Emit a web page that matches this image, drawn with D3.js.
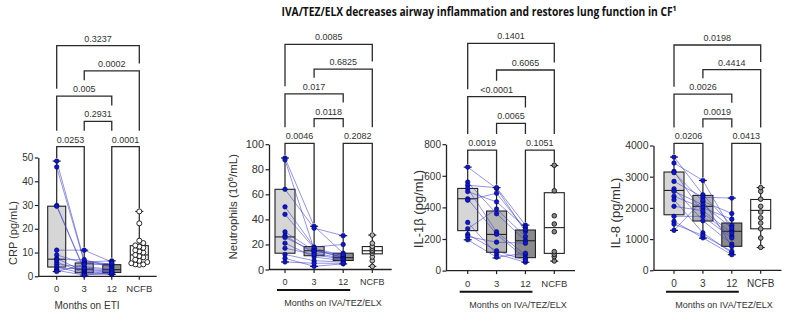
<!DOCTYPE html>
<html>
<head>
<meta charset="utf-8">
<script src="https://cdn.jsdelivr.net/npm/d3@7"></script>
<style>
  html, body { margin: 0; padding: 0; background: #fff; }
  svg text { font-family: 'Liberation Sans', Arial, Helvetica, sans-serif; }
</style>
</head>
<body>
<div id="chart"></div>
<script>
(function() {
    'use strict';

    var titleText = 'IVA/TEZ/ELX decreases airway inflammation and restores lung function in CF\u00b9';
    var groups = ['0', '3', '12', 'NCFB'];

    // comparisons (group indexes) and the stack level of each bracket, top = 0
    var comparisons = [[0, 3], [1, 3], [0, 2], [1, 2], [0, 1], [2, 3]];
    var compLevels = [0, 1, 2, 3, 4, 4];

    // CRP (pg/mL), paired by patient across 0 / 3 / 12 months
    var crpMonth0  = [48.5, 46, 29.8, 29.5, 11, 9, 7.5, 7, 6, 5, 4, 3, 2.5, 2];
    var crpMonth3  = [6.5, 6, 3, 2.5, 11, 5.5, 2, 7, 1.5, 4, 1, 3.5, 0.5, 5];
    var crpMonth12 = [5, 6.5, 2, 1.7, 6, 4.5, 1.2, 3.8, 1, 3, 0.8, 2.5, 1.5, 5.5];
    var crpNcfb    = [27.3, 22.3, 15, 14, 13, 12.5, 12, 11, 10.5, 10, 9, 8.5, 8, 7, 6.5, 6, 5.5, 5, 5, 4.8];
    // min, q1, median, q3, max
    var crpBoxes   = [[2, 3.9, 7.2, 29.5, 48.5], [0.5, 1.5, 3, 5.6, 11], [0.8, 1.6, 2.8, 4.9, 6.5], [4.7, 5.6, 9, 12.9, 27.3]];
    var crpP       = ['0.3237', '0.0002', '0.005', '0.2931', '0.0253', '0.0001'];

    // Neutrophils (10^6/mL)
    var neuMonth0  = [89, 87.5, 64, 50, 44, 30, 27, 25.5, 21, 17, 12, 9, 6];
    var neuMonth3  = [34.5, 16, 33, 18, 17, 15, 13, 14.5, 10, 12, 7, 2.5, 5];
    var neuMonth12 = [13, 9.5, 27, 20, 11, 10, 9, 12, 7, 8, 6, 4.5, 5];
    var neuNcfb    = [27.5, 21, 18.5, 17, 15.5, 14.5, 13, 10, 7, 2.5];
    var neuBoxes   = [[6, 13, 26, 64, 89], [2.5, 11, 15, 18.3, 34.5], [4.5, 7.2, 9.5, 13, 27], [2.5, 12.5, 15, 18.3, 27.5]];
    var neuP       = ['0.0085', '0.6825', '0.017', '0.0118', '0.0046', '0.2082'];

    // IL-1beta (pg/mL)
    var il1bMonth0  = [655, 560, 540, 520, 500, 455, 445, 305, 265, 230, 215, 195];
    var il1bMonth3  = [520, 360, 525, 245, 435, 230, 490, 105, 390, 125, 180, 85];
    var il1bMonth12 = [246, 190, 288, 99, 274, 78, 260, 53, 215, 65, 173, 110];
    var il1bNcfb    = [667, 505, 347, 295, 246, 120, 103, 88, 61];
    var il1bBoxes   = [[195, 253, 455, 520, 655], [80, 116, 229, 377, 525], [53, 82, 189, 257, 288], [60, 109, 272, 493, 665]];
    var il1bP       = ['0.1401', '0.6065', '<0.0001', '0.0065', '0.0019', '0.1051'];

    // IL-8 (pg/mL)
    var il8Month0  = [3630, 3440, 3170, 3130, 2850, 2610, 2530, 2370, 2260, 2050, 1730, 1570, 1480, 1280];
    var il8Month3  = [2420, 2880, 1840, 2210, 2340, 1590, 2100, 2000, 1200, 1910, 1730, 1040, 1120, 2250];
    var il8Month12 = [1440, 1280, 1100, 1820, 2315, 840, 1355, 1640, 555, 1195, 1035, 500, 610, 760];
    var il8Ncfb    = [2650, 2530, 2280, 2050, 1870, 1680, 1515, 1330, 1035, 736];
    var il8Boxes   = [[1280, 1780, 2560, 3150, 3630], [1030, 1580, 2050, 2400, 2880], [500, 768, 1250, 1515, 2315], [730, 1330, 1920, 2270, 2650]];
    var il8P       = ['0.0198', '0.4414', '0.0026', '0.0019', '0.0206', '0.0413'];

    var panels = [
        { yLabel: ['CRP (pg/mL)'], yMax: 50, yStep: 10, xTitle: 'Months on ETI',
          paired: [crpMonth0, crpMonth3, crpMonth12], ncfb: crpNcfb, boxes: crpBoxes, p: crpP },
        { yLabel: ['Neutrophils (10', '6', '/mL)'], yMax: 100, yStep: 20, xTitle: 'Months on IVA/TEZ/ELX',
          paired: [neuMonth0, neuMonth3, neuMonth12], ncfb: neuNcfb, boxes: neuBoxes, p: neuP },
        { yLabel: ['IL-1\u03b2 (pg/mL)'], yMax: 800, yStep: 200, xTitle: 'Months on IVA/TEZ/ELX',
          paired: [il1bMonth0, il1bMonth3, il1bMonth12], ncfb: il1bNcfb, boxes: il1bBoxes, p: il1bP },
        { yLabel: ['IL-8 (pg/mL)'], yMax: 4000, yStep: 1000, xTitle: 'Months on IVA/TEZ/ELX',
          paired: [il8Month0, il8Month3, il8Month12], ncfb: il8Ncfb, boxes: il8Boxes, p: il8P }
    ];

    // pixel layout of each small graph
    var layouts = [
        { axisX: 38.3, catL: 56.7, catR: 139.3, xEnd: 156.7, yBase: 276.3, yTop: 157.5,
          bTop: 45.7, bStep: 25.25, labelX: 13, labelY: 233, yLabFs: 11, yTickFs: 10, xTickFs: 9.5,
          tickY: 288.3, xTitleX: 87, xTitleY: 305, xTitleFs: 10, bar: null, boxW: 18,
          ncfbFill: '#fff', ncfbR: 2.5, dodge: true },
        { axisX: 269, catL: 285, catR: 372.3, xEnd: 391.7, yBase: 269.5, yTop: 144.2,
          bTop: 44.3, bStep: 24.75, labelX: 233.3, labelY: 206.7, yLabFs: 11.5, yTickFs: 11, xTickFs: 9,
          tickY: 282, xTitleX: 333, xTitleY: 303, xTitleFs: 9, bar: 290, boxW: 20,
          ncfbFill: '#bbb', ncfbR: 2.3, dodge: false },
        { axisX: 446, catL: 467.7, catR: 554.3, xEnd: 575, yBase: 270.6, yTop: 144.2,
          bTop: 43.3, bStep: 26.7, labelX: 418.3, labelY: 209, yLabFs: 13, yTickFs: 10, xTickFs: 9.5,
          tickY: 283.3, xTitleX: 518, xTitleY: 305, xTitleFs: 9, bar: 291.7, boxW: 20,
          ncfbFill: '#888', ncfbR: 2.3, dodge: false },
        { axisX: 653.5, catL: 674, catR: 760.7, xEnd: 781.5, yBase: 270.3, yTop: 145.5,
          bTop: 45, bStep: 24.6, labelX: 615, labelY: 213, yLabFs: 13, yTickFs: 10.5, xTickFs: 10,
          tickY: 283.3, xTitleX: 724, xTitleY: 305, xTitleFs: 9, bar: 291.7, boxW: 20,
          ncfbFill: '#999', ncfbR: 2.3, dodge: false }
    ];

    var inkColor = '#222';
    var textColor = '#333';
    var boxFills = ['#d6d6d6', '#b5b5b5', '#8a8a8a', '#ffffff'];
    var dotBlue = '#0b16d8';
    var pairLine = '#3c3cc8';

    var svg = d3.select('#chart')
      .append('svg')
        .attr('width', 798)
        .attr('height', 324);

    svg.append('text')
        .attr('x', 479)
        .attr('y', 16)
        .attr('text-anchor', 'middle')
        .attr('textLength', 395)
        .attr('lengthAdjust', 'spacingAndGlyphs')
        .style('font-family', '"Open Sans", Lato, sans-serif')
        .style('font-weight', 700)
        .style('font-size', '12.5px')
        .attr('fill', '#111')
        .text(titleText);

    panels.forEach(function(panel, i) { drawPanel(panel, layouts[i]); });

    function drawPanel(panel, lay) {

        var g = svg.append('g');

        var x = d3.scalePoint()
          .domain(groups)
          .range([lay.catL, lay.catR]);

        var y = d3.scaleLinear()
          .domain([0, panel.yMax])
          .range([lay.yBase, lay.yTop]);

        // y axis
        var yAxis = d3.axisLeft(y)
          .tickValues(d3.range(0, panel.yMax + panel.yStep / 2, panel.yStep))
          .tickFormat(d3.format('d'))
          .tickSize(3.5)
          .tickSizeOuter(0)
          .tickPadding(1.5);

        var ya = g.append('g')
          .attr('transform', 'translate(' + lay.axisX + ',0)')
          .call(yAxis);
        ya.select('.domain').attr('stroke', inkColor).attr('stroke-width', 1.3);
        ya.selectAll('.tick line').attr('stroke', inkColor).attr('stroke-width', 1.2);
        ya.selectAll('.tick text')
          .attr('fill', textColor)
          .style('font-size', lay.yTickFs + 'px');

        // x axis
        g.append('line')
          .attr('x1', lay.axisX).attr('x2', lay.xEnd)
          .attr('y1', lay.yBase).attr('y2', lay.yBase)
          .attr('stroke', inkColor)
          .attr('stroke-width', 1.3);

        g.append('g')
        .selectAll('line')
        .data(groups)
        .enter().append('line')
          .attr('x1', function(d) { return x(d); })
          .attr('x2', function(d) { return x(d); })
          .attr('y1', lay.yBase)
          .attr('y2', lay.yBase + 3.5)
          .attr('stroke', inkColor)
          .attr('stroke-width', 1.2);

        g.append('g')
        .selectAll('text')
        .data(groups)
        .enter().append('text')
          .attr('x', function(d) { return x(d); })
          .attr('y', lay.tickY)
          .attr('dy', '0.35em')
          .attr('text-anchor', 'middle')
          .attr('fill', textColor)
          .style('font-size', lay.xTickFs + 'px')
          .text(function(d) { return d; });

        if (lay.bar !== null) {
            g.append('line')
              .attr('x1', x('0') - 8).attr('x2', x('12') + 7)
              .attr('y1', lay.bar).attr('y2', lay.bar)
              .attr('stroke', '#111')
              .attr('stroke-width', 2);
        }

        g.append('text')
          .attr('x', lay.xTitleX)
          .attr('y', lay.xTitleY)
          .attr('dy', '0.35em')
          .attr('text-anchor', 'middle')
          .attr('fill', textColor)
          .style('font-size', lay.xTitleFs + 'px')
          .text(panel.xTitle);

        // y label (rotated)
        var yl = g.append('text')
          .attr('transform', 'translate(' + lay.labelX + ',' + lay.labelY + ') rotate(-90)')
          .attr('text-anchor', 'middle')
          .attr('dy', '0.35em')
          .attr('fill', textColor)
          .style('font-size', lay.yLabFs + 'px');
        yl.append('tspan').text(panel.yLabel[0]);
        if (panel.yLabel.length > 1) {
            yl.append('tspan').attr('dy', -4).style('font-size', (lay.yLabFs * 0.7) + 'px').text(panel.yLabel[1]);
            yl.append('tspan').attr('dy', 4).text(panel.yLabel[2]);
        }

        // boxes and whiskers
        var bw = lay.boxW;
        var box = g.append('g')
        .selectAll('g')
        .data(panel.boxes)
        .enter().append('g');

        box.append('line')
          .attr('x1', function(d, k) { return x(groups[k]); })
          .attr('x2', function(d, k) { return x(groups[k]); })
          .attr('y1', function(d) { return y(d[0]); })
          .attr('y2', function(d) { return y(d[4]); })
          .attr('stroke', inkColor)
          .attr('stroke-width', 1.2);

        [0, 4].forEach(function(q) {
            box.append('line')
              .attr('x1', function(d, k) { return x(groups[k]) - 4; })
              .attr('x2', function(d, k) { return x(groups[k]) + 4; })
              .attr('y1', function(d) { return y(d[q]); })
              .attr('y2', function(d) { return y(d[q]); })
              .attr('stroke', inkColor)
              .attr('stroke-width', 1.2);
        });

        box.append('rect')
          .attr('x', function(d, k) { return x(groups[k]) - bw / 2; })
          .attr('y', function(d) { return y(d[3]); })
          .attr('width', bw)
          .attr('height', function(d) { return y(d[1]) - y(d[3]); })
          .attr('fill', function(d, k) { return boxFills[k]; })
          .attr('stroke', inkColor)
          .attr('stroke-width', 1.1);

        box.append('line')
          .attr('x1', function(d, k) { return x(groups[k]) - bw / 2; })
          .attr('x2', function(d, k) { return x(groups[k]) + bw / 2; })
          .attr('y1', function(d) { return y(d[2]); })
          .attr('y2', function(d) { return y(d[2]); })
          .attr('stroke', inkColor)
          .attr('stroke-width', 1.1);

        // paired patient lines
        var patients = d3.range(panel.paired[0].length).map(function(p) {
            return panel.paired.map(function(arr, k) { return { g: groups[k], v: arr[p] }; });
        });

        var lineGen = d3.line()
          .x(function(d) { return x(d.g); })
          .y(function(d) { return y(d.v); });

        g.append('g')
        .selectAll('path')
        .data(patients)
        .enter().append('path')
          .attr('d', lineGen)
          .attr('fill', 'none')
          .attr('stroke', pairLine)
          .attr('stroke-opacity', 0.55)
          .attr('stroke-width', 1);

        // blue points
        var bluePts = [];
        panel.paired.forEach(function(arr, k) {
            arr.forEach(function(v) { bluePts.push({ g: groups[k], v: v }); });
        });

        g.append('g')
        .selectAll('circle')
        .data(bluePts)
        .enter().append('circle')
          .attr('cx', function(d) { return x(d.g); })
          .attr('cy', function(d) { return y(d.v); })
          .attr('r', 2.3)
          .attr('fill', dotBlue)
          .attr('stroke', '#00003a')
          .attr('stroke-width', 0.5);

        // NCFB points, dodged sideways where they pile up
        var r = lay.ncfbR;
        var placed = [];
        var ncfbPts = panel.ncfb.slice().sort(d3.ascending).map(function(v) {
            var cy = y(v), offsets = [0], dx = 0, s;
            if (lay.dodge) {
                for (s = 1; s < 4; s++) { offsets.push(-s * r * 1.6, s * r * 1.6); }
                for (s = 0; s < offsets.length; s++) {
                    var clash = placed.some(function(p) {
                        return Math.abs(p.dx - offsets[s]) < 2 * r - 1 && Math.abs(p.cy - cy) < 2 * r - 1;
                    });
                    if (!clash) { dx = offsets[s]; break; }
                }
            }
            var pt = { v: v, cy: cy, dx: dx };
            placed.push(pt);
            return pt;
        });

        g.append('g')
        .selectAll('circle')
        .data(ncfbPts)
        .enter().append('circle')
          .attr('cx', function(d) { return x('NCFB') + d.dx; })
          .attr('cy', function(d) { return d.cy; })
          .attr('r', r)
          .attr('fill', lay.ncfbFill)
          .attr('stroke', '#111')
          .attr('stroke-width', 0.9);

        // significance brackets
        var levelY = function(l) { return lay.bTop + l * lay.bStep; };
        var br = g.append('g');

        var labels = comparisons.map(function(c, i) {
            var x1 = x(groups[c[0]]), x2 = x(groups[c[1]]);
            var t = br.append('text')
              .attr('x', (x1 + x2) / 2)
              .attr('y', levelY(compLevels[i]) - 4)
              .attr('text-anchor', 'middle')
              .attr('fill', textColor)
              .style('font-size', '9px')
              .text(panel.p[i]);
            return { cx: (x1 + x2) / 2, w: t.node().getComputedTextLength() };
        });

        function legEnd(i, gi) {
            var best = -1;
            comparisons.forEach(function(c, j) {
                if (compLevels[j] > compLevels[i] && gi >= c[0] && gi <= c[1]) {
                    if (best < 0 || compLevels[j] < compLevels[best]) { best = j; }
                }
            });
            if (best < 0) { return y(panel.boxes[gi][4]) - 3; }
            var gx = x(groups[gi]);
            var covered = Math.abs(gx - labels[best].cx) <= labels[best].w / 2 + 2;
            return levelY(compLevels[best]) - (covered ? 16 : 7.5);
        }

        br.selectAll('path')
        .data(comparisons)
        .enter().append('path')
          .attr('d', function(c, i) {
              var yy = levelY(compLevels[i]);
              return 'M' + x(groups[c[0]]) + ',' + legEnd(i, c[0]) +
                     'V' + yy + 'H' + x(groups[c[1]]) + 'V' + legEnd(i, c[1]);
          })
          .attr('fill', 'none')
          .attr('stroke', '#2a2a2a')
          .attr('stroke-width', 1.3);

    } // function drawPanel(...)

})();
</script>
</body>
</html>
